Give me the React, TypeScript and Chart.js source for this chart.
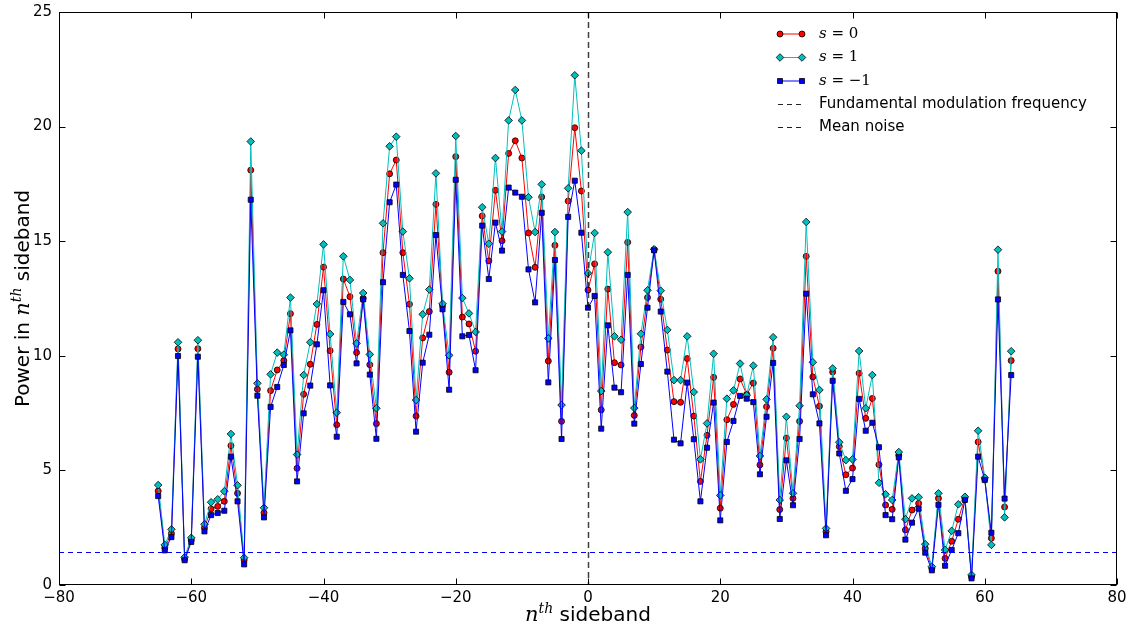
import React, { useEffect, useRef } from "react";
import { Chart, registerables } from "chart.js";

Chart.register(...registerables);

const sidebands = [
  -65, -64, -63, -62, -61, -60, -59, -58, -57, -56, -55, -54, -53, -52, -51, -50,
  -49, -48, -47, -46, -45, -44, -43, -42, -41, -40, -39, -38, -37, -36, -35, -34,
  -33, -32, -31, -30, -29, -28, -27, -26, -25, -24, -23, -22, -21, -20, -19, -18,
  -17, -16, -15, -14, -13, -12, -11, -10, -9, -8, -7, -6, -5, -4, -3, -2, -1,
  0, 1, 2, 3, 4, 5, 6, 7, 8, 9, 10, 11, 12, 13, 14, 15, 16, 17, 18, 19, 20, 21,
  22, 23, 24, 25, 26, 27, 28, 29, 30, 31, 32, 33, 34, 35, 36, 37, 38, 39, 40, 41,
  42, 43, 44, 45, 46, 47, 48, 49, 50, 51, 52, 53, 54, 55, 56, 57, 58, 59, 60, 61,
  62, 63, 64,
];

const powerS0 = [
  4.1, 1.63, 2.25, 10.3, 1.13, 1.96, 10.31, 2.5, 3.32, 3.43, 3.65, 6.08, 4.0, 1.09, 18.1, 8.54,
  3.15, 8.48, 9.38, 9.79, 11.84, 5.09, 8.32, 9.63, 11.37, 13.87, 10.22, 6.99, 13.35, 12.58, 10.14, 12.51,
  9.61, 7.04, 14.5, 17.94, 18.54, 14.5, 12.25, 7.37, 10.78, 11.93, 16.61, 12.19, 9.28, 18.69, 11.69, 11.39,
  10.2, 16.1, 14.14, 17.22, 15.02, 18.83, 19.38, 18.63, 15.36, 13.86, 16.93, 9.77, 14.82, 7.14, 16.75, 19.95, 17.19,
  12.87, 14.01, 7.64, 12.91, 9.7, 9.6, 14.95, 7.4, 10.38, 12.54, 14.63, 12.47, 10.25, 8.0, 7.97, 9.88, 7.37, 4.52, 6.53, 9.06, 3.35, 7.21,
  7.88, 8.99, 8.32, 8.81, 5.24, 7.78, 10.33, 3.29, 6.41, 3.78, 7.14, 14.34, 9.08, 7.8, 2.33, 9.29, 6.04, 4.81, 5.1, 9.24,
  7.27, 8.14, 5.25, 3.49, 3.3, 5.67, 2.4, 3.27, 3.56, 1.6, 0.73, 3.78, 1.16, 1.91, 2.87, 3.78, 0.36, 6.24, 4.62, 2.04,
  13.69, 3.4, 9.79,
];

const powerS1 = [
  4.36, 1.75, 2.43, 10.59, 1.21, 2.06, 10.68, 2.65, 3.61, 3.74, 4.09, 6.59, 4.35, 1.19, 19.35, 8.8,
  3.37, 9.19, 10.14, 10.05, 12.54, 5.69, 9.16, 10.59, 12.26, 14.86, 10.95, 7.52, 14.34, 13.31, 10.54, 12.74,
  10.06, 7.71, 15.78, 19.14, 19.56, 15.42, 13.38, 8.07, 11.81, 12.89, 17.96, 12.27, 10.02, 19.59, 12.52, 11.85,
  11.04, 16.48, 14.89, 18.63, 15.42, 20.27, 21.6, 20.27, 16.92, 15.4, 17.48, 10.76, 15.4, 7.85, 17.31, 22.24, 18.95,
  13.6, 15.36, 8.46, 14.52, 10.85, 10.7, 16.27, 7.72, 10.96, 12.86, 14.65, 12.84, 11.13, 8.94, 8.94, 10.85, 8.42, 5.48, 7.05, 10.09, 3.91, 8.13,
  8.49, 9.66, 8.28, 9.57, 5.63, 8.1, 10.81, 3.71, 7.34, 4.0, 7.82, 15.84, 9.72, 8.51, 2.47, 9.45, 6.23, 5.45, 5.48, 10.21,
  7.71, 9.16, 4.46, 3.96, 3.71, 5.8, 2.87, 3.78, 3.83, 1.78, 0.8, 4.0, 1.53, 2.36, 3.52, 3.85, 0.44, 6.73, 4.68, 1.75,
  14.63, 2.95, 10.2,
];

const powerSm1 = [
  3.88, 1.51, 2.09, 9.99, 1.08, 1.88, 9.96, 2.34, 3.05, 3.14, 3.24, 5.6, 3.65, 0.9, 16.81, 8.26,
  2.95, 7.77, 8.64, 9.6, 11.11, 4.52, 7.49, 8.7, 10.5, 12.86, 8.71, 6.47, 12.35, 11.81, 9.67, 12.46,
  9.18, 6.38, 13.21, 16.7, 17.47, 13.53, 11.08, 6.69, 9.7, 10.92, 15.27, 12.03, 8.52, 17.68, 10.85, 10.91,
  9.37, 15.68, 13.35, 15.81, 14.59, 17.34, 17.12, 16.94, 13.77, 12.33, 16.24, 8.84, 14.18, 6.37, 16.06, 17.64, 15.37,
  12.1, 12.61, 6.82, 11.33, 8.61, 8.41, 13.53, 7.04, 9.64, 12.1, 14.6, 11.93, 9.31, 6.34, 6.18, 8.83, 6.36, 3.65, 5.99, 7.96, 2.82, 6.24,
  7.16, 8.25, 8.13, 7.98, 4.83, 7.34, 9.69, 2.88, 5.44, 3.48, 6.37, 12.71, 8.32, 7.05, 2.17, 8.91, 5.74, 4.11, 4.62, 8.12,
  6.73, 7.08, 6.01, 3.05, 2.87, 5.57, 1.98, 2.72, 3.33, 1.41, 0.64, 3.5, 0.84, 1.53, 2.26, 3.71, 0.29, 5.6, 4.58, 2.28,
  12.46, 3.77, 9.16,
];

const fundamentalFrequency = 0;
const meanNoise = 1.45;

const xTicks = [-80, -60, -40, -20, 0, 20, 40, 60, 80];
const yTicks = [0, 5, 10, 15, 20, 25];

const legendLabels = ["s = 0", "s = 1", "s = \u22121", "Fundamental modulation frequency", "Mean noise"];

const SANS = '"DejaVu Sans", sans-serif';
const SERIF = '"DejaVu Serif", serif';

const RED = "#ff0000";
const CYAN = "#00bfbf";
const BLUE = "#0000ff";

function fmt(v: number) {
  return String(v).replace("-", "\u2212");
}

function drawMarker(ctx: CanvasRenderingContext2D, style: string, x: number, y: number, fill: string) {
  ctx.save();
  ctx.fillStyle = fill;
  ctx.strokeStyle = "#000";
  ctx.lineWidth = 0.8;
  ctx.setLineDash([]);
  ctx.beginPath();
  if (style === "circle") {
    ctx.arc(x, y, 3, 0, Math.PI * 2);
  } else if (style === "rect") {
    ctx.rect(x - 2.5, y - 2.5, 5, 5);
  } else {
    ctx.moveTo(x, y - 3.8);
    ctx.lineTo(x + 3.8, y);
    ctx.lineTo(x, y + 3.8);
    ctx.lineTo(x - 3.8, y);
    ctx.closePath();
  }
  ctx.fill();
  ctx.stroke();
  ctx.restore();
}

type Part = { text: string; font: string; dy: number };

function drawParts(ctx: CanvasRenderingContext2D, parts: Part[], startX: number, y: number) {
  let x = startX;
  for (const p of parts) {
    ctx.font = p.font;
    ctx.fillText(p.text, x, y + p.dy);
    x += ctx.measureText(p.text).width;
  }
}

function partsWidth(ctx: CanvasRenderingContext2D, parts: Part[]) {
  let w = 0;
  for (const p of parts) {
    ctx.font = p.font;
    w += ctx.measureText(p.text).width;
  }
  return w;
}

const decorPlugin = {
  id: "decor",
  afterDatasetsDraw(chart: any) {
    const { ctx, chartArea, scales } = chart;
    const xs = scales.x;
    const ys = scales.y;
    ctx.save();
    ctx.beginPath();
    ctx.rect(chartArea.left, chartArea.top, chartArea.right - chartArea.left, chartArea.bottom - chartArea.top);
    ctx.clip();
    const x0 = Math.round(xs.getPixelForValue(fundamentalFrequency)) + 0.5;
    ctx.strokeStyle = "rgba(0,0,0,0.75)";
    ctx.lineWidth = 1.5;
    ctx.setLineDash([6, 4]);
    ctx.beginPath();
    ctx.moveTo(x0, chartArea.top);
    ctx.lineTo(x0, chartArea.bottom);
    ctx.stroke();
    const yn = Math.round(ys.getPixelForValue(meanNoise)) + 0.5;
    ctx.strokeStyle = BLUE;
    ctx.lineWidth = 1;
    ctx.setLineDash([5, 4]);
    ctx.beginPath();
    ctx.moveTo(chartArea.left, yn);
    ctx.lineTo(chartArea.right, yn);
    ctx.stroke();
    ctx.restore();
  },
  afterDraw(chart: any) {
    const { ctx, chartArea, scales } = chart;
    const xs = scales.x;
    const ys = scales.y;
    const L = chartArea.left + 0.5;
    const R = chartArea.right - 0.5;
    const T = chartArea.top + 0.5;
    const B = chartArea.bottom - 0.5;
    ctx.save();
    ctx.setLineDash([]);
    ctx.strokeStyle = "#000";
    ctx.lineWidth = 1;
    ctx.strokeRect(L, T, R - L, B - T);
    const tl = 6;
    ctx.beginPath();
    for (const v of xTicks) {
      const px = Math.round(xs.getPixelForValue(v)) + 0.5;
      ctx.moveTo(px, B);
      ctx.lineTo(px, B - tl);
      ctx.moveTo(px, T);
      ctx.lineTo(px, T + tl);
    }
    for (const v of yTicks) {
      const py = Math.round(ys.getPixelForValue(v)) + 0.5;
      ctx.moveTo(L, py);
      ctx.lineTo(L + tl, py);
      ctx.moveTo(R, py);
      ctx.lineTo(R - tl, py);
    }
    ctx.stroke();

    // legend
    const styles = [
      { color: RED, marker: "circle", fill: RED },
      { color: CYAN, marker: "diamond", fill: CYAN },
      { color: BLUE, marker: "rect", fill: BLUE },
    ];
    const rows = [34, 57.5, 81, 104, 127];
    const hx0 = 780;
    const hx1 = 802;
    const tx = 819;
    ctx.textBaseline = "middle";
    ctx.textAlign = "left";
    for (let i = 0; i < 3; i++) {
      const y = rows[i];
      ctx.strokeStyle = styles[i].color;
      ctx.lineWidth = 1;
      ctx.beginPath();
      ctx.moveTo(hx0, y);
      ctx.lineTo(hx1, y);
      ctx.stroke();
      drawMarker(ctx, styles[i].marker, hx0, y, styles[i].fill);
      drawMarker(ctx, styles[i].marker, hx1, y, styles[i].fill);
      const label = legendLabels[i];
      ctx.fillStyle = "#000";
      ctx.font = `italic 15px ${SERIF}`;
      ctx.fillText(label[0], tx, y);
      const w = ctx.measureText(label[0]).width;
      ctx.font = `15px ${SERIF}`;
      ctx.fillText(label.slice(1), tx + w, y);
    }
    const dashColors = ["rgba(0,0,0,0.85)", BLUE];
    for (let i = 3; i < 5; i++) {
      const y = Math.round(rows[i]) + 0.5;
      ctx.strokeStyle = dashColors[i - 3];
      ctx.lineWidth = 1;
      ctx.setLineDash([5, 4]);
      ctx.beginPath();
      ctx.moveTo(hx0 - 2, y);
      ctx.lineTo(hx1 + 2, y);
      ctx.stroke();
      ctx.setLineDash([]);
      ctx.fillStyle = "#000";
      ctx.font = `15px ${SANS}`;
      ctx.fillText(legendLabels[i], tx, rows[i]);
    }

    // axis titles
    const cx = (chartArea.left + chartArea.right) / 2;
    const cy = (chartArea.top + chartArea.bottom) / 2;
    ctx.fillStyle = "#000";
    ctx.textBaseline = "alphabetic";
    const xParts: Part[] = [
      { text: "n", font: `italic 21px ${SERIF}`, dy: 0 },
      { text: "th", font: `italic 14px ${SERIF}`, dy: -8 },
      { text: " sideband", font: `20px ${SANS}`, dy: 0 },
    ];
    const xw = partsWidth(ctx, xParts);
    drawParts(ctx, xParts, cx - xw / 2, 621);

    const yParts: Part[] = [
      { text: "Power in ", font: `20px ${SANS}`, dy: 0 },
      { text: "n", font: `italic 21px ${SERIF}`, dy: 0 },
      { text: "th", font: `italic 14px ${SERIF}`, dy: -8 },
      { text: " sideband", font: `20px ${SANS}`, dy: 0 },
    ];
    const yw = partsWidth(ctx, yParts);
    ctx.translate(29, cy);
    ctx.rotate(-Math.PI / 2);
    drawParts(ctx, yParts, -yw / 2, 0);
    ctx.restore();
  },
};

export default function App() {
  const ref = useRef<HTMLCanvasElement | null>(null);
  useEffect(() => {
    if (!ref.current) return;
    const mk = (vals: number[]) => sidebands.map((n, i) => ({ x: n, y: vals[i] }));
    const chart = new Chart(ref.current, {
      type: "line",
      data: {
        datasets: [
          {
            label: legendLabels[0],
            data: mk(powerS0),
            borderColor: RED,
            backgroundColor: RED,
            borderWidth: 1,
            pointStyle: "circle",
            pointRadius: 3,
            pointBackgroundColor: RED,
            pointBorderColor: "#000",
            pointBorderWidth: 0.8,
            order: 3,
          },
          {
            label: legendLabels[1],
            data: mk(powerS1),
            borderColor: CYAN,
            backgroundColor: CYAN,
            borderWidth: 1,
            pointStyle: "rectRot",
            pointRadius: 3.8,
            pointBackgroundColor: CYAN,
            pointBorderColor: "#000",
            pointBorderWidth: 0.8,
            order: 2,
          },
          {
            label: legendLabels[2],
            data: mk(powerSm1),
            borderColor: BLUE,
            backgroundColor: BLUE,
            borderWidth: 1,
            pointStyle: "rect",
            pointRadius: 3.6,
            pointBackgroundColor: BLUE,
            pointBorderColor: "#000",
            pointBorderWidth: 0.8,
            order: 1,
          },
        ],
      },
      options: {
        responsive: false,
        animation: false,
        layout: { padding: { top: 12, right: 16, left: 0, bottom: 0 } },
        plugins: { legend: { display: false }, tooltip: { enabled: false } },
        scales: {
          x: {
            type: "linear",
            min: -80,
            max: 80,
            grid: { display: false, drawTicks: false },
            border: { display: false },
            ticks: {
              stepSize: 20,
              padding: 4,
              color: "#000",
              font: { family: SANS, size: 15 },
              maxRotation: 0,
              callback: (v: any) => fmt(Number(v)),
            },
            afterFit: (s: any) => {
              s.height = 47;
              s.paddingLeft = 0;
              s.paddingRight = 0;
            },
          },
          y: {
            type: "linear",
            min: 0,
            max: 25,
            grid: { display: false, drawTicks: false },
            border: { display: false },
            ticks: {
              stepSize: 5,
              padding: 7,
              color: "#000",
              font: { family: SANS, size: 15 },
              callback: (v: any) => fmt(Number(v)),
            },
            afterFit: (s: any) => {
              s.width = 59;
              s.paddingTop = 0;
              s.paddingBottom = 0;
            },
          },
        },
      },
      plugins: [decorPlugin],
    });
    return () => chart.destroy();
  }, []);
  return (
    <div style={{ position: "absolute", left: 0, top: 0, width: 1133, height: 632, background: "#fff" }}>
      <canvas ref={ref} width={1133} height={632} style={{ display: "block" }} />
    </div>
  );
}
